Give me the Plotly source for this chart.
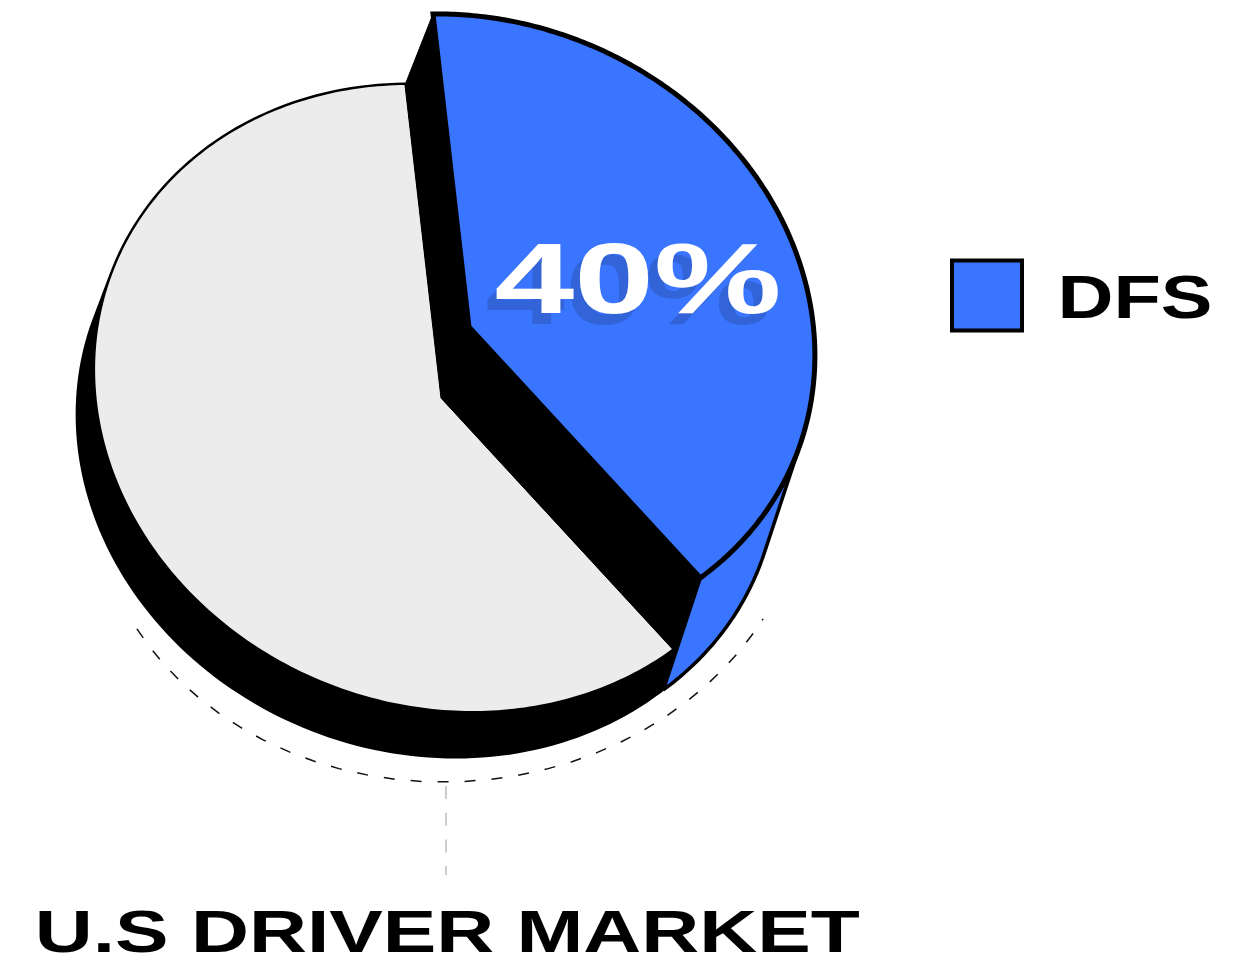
import numpy as np
import plotly.graph_objects as go

# Data
categories = ["DFS", "Other drivers"]
shares = [40, 60]
value_label = "40%"
legend_label = "DFS"
title_label = "U.S DRIVER MARKET"

BLUE = "#3a75ff"
GRAY = "#ececec"

# The pie is a circle seen through a linear map (page pixels, y down)
s_vec = np.array([-36.0, -313.0])
q_vec = np.array([344.0, -4.0])
blue_c = np.array([469.0, 327.0])
gray_c = np.array([441.0, 398.0])
gray_depth = np.array([-17.0, 45.0])
blue_depth = np.array([-37.0, 112.0])


def arc(center, t0, t1, n=240):
    t = np.linspace(t0, t1, n)
    return center + np.outer(np.cos(t), s_vec) + np.outer(np.sin(t), q_vec)


def hull(pts):
    pts = sorted(map(tuple, pts))
    def half(seq):
        out = []
        for p in seq:
            while len(out) > 1 and ((out[-1][0]-out[-2][0])*(p[1]-out[-2][1]) -
                                    (out[-1][1]-out[-2][1])*(p[0]-out[-2][0])) <= 0:
                out.pop()
            out.append(p)
        return out[:-1]
    h = half(pts) + half(pts[::-1])
    return np.array(h + [h[0]])


split = 2 * np.pi * shares[0] / sum(shares)
fig = go.Figure()


def poly(points, fill, line_color=None, width=0, name=""):
    fig.add_trace(go.Scatter(
        x=points[:, 0], y=points[:, 1], mode="lines", fill="toself", fillcolor=fill,
        line=dict(color=line_color or fill, width=width, simplify=False),
        name=name, hoverinfo="name", showlegend=False))


# dashed bracket and leader
t_d = np.linspace(np.radians(151), np.radians(29), 200)
dx = 358 * np.cos(t_d)
fig.add_trace(go.Scatter(x=450 + dx, y=475 + 307 * np.sin(t_d) - 0.016 * dx, mode="lines",
                         line=dict(color="#111111", width=1.5, dash="11px,16px"),
                         hoverinfo="skip", showlegend=False))
fig.add_trace(go.Scatter(x=[446, 446], y=[786, 875], mode="lines",
                         line=dict(color="#bdbdbd", width=1.5, dash="13px,13.7px"),
                         hoverinfo="skip", showlegend=False))

# extrusions
full = arc(gray_c, 0, 2 * np.pi)
poly(hull(np.vstack([full, full + gray_depth])), "#000000", "#000000", 5, categories[1] + " side")
blue_arc = arc(blue_c, 0, split)
blue_low = blue_arc[blue_arc[:, 1] > 300]
poly(hull(np.vstack([blue_low, blue_low + blue_depth])), BLUE, "#000000", 3.5, categories[0] + " side")

# grey top
g = arc(gray_c, split, 2 * np.pi)
poly(np.vstack([gray_c, g, gray_c]), GRAY, name=categories[1])

# wall between the two slices
g_s, g_e = gray_c + s_vec, arc(gray_c, split, split, 1)[0]
b_s, b_e = blue_c + s_vec, arc(blue_c, split, split, 1)[0]
poly(np.array([b_s, g_s, gray_c, g_e, b_e, blue_c, b_s]), "#000000", "#000000", 1, "wall")

# blue top
poly(np.vstack([blue_c, blue_arc, blue_c]), BLUE, "#000000", 5, categories[0])

# legend swatch
fig.add_trace(go.Scatter(x=[987], y=[295.5], mode="markers", name=categories[0],
                         marker=dict(symbol="square", size=70, color=BLUE,
                                     line=dict(color="#000000", width=4)),
                         showlegend=False))

ann_font = "Liberation Sans"
fig.add_annotation(x=638, y=278, text=value_label, showarrow=False,
                   font=dict(family=ann_font, size=100, color="#ffffff", weight="bold",
                             shadow="-8px 13px 0 #3264d8"))
fig.add_annotation(x=1135, y=297, text=legend_label, showarrow=False,
                   font=dict(family=ann_font, size=61, color="#000000", weight="bold"))
fig.add_annotation(x=447, y=931, text=title_label, showarrow=False,
                   font=dict(family=ann_font, size=60, color="#000000", weight="bold"))

axis = dict(visible=False, fixedrange=True)
fig.update_layout(
    width=1244, height=956, autosize=False,
    margin=dict(l=0, r=0, t=0, b=0),
    paper_bgcolor="#ffffff", plot_bgcolor="#ffffff",
    xaxis=dict(axis, range=[0, 1244]),
    yaxis=dict(axis, range=[956, 0]),
)

stretch = """
var wanted = {'40%': 287, 'DFS': 155, 'U.S DRIVER MARKET': 825};
document.querySelectorAll('.annotation-text').forEach(function (t) {
  var w = wanted[t.textContent];
  if (!w) return;
  var box = t.getBBox();
  var sx = w / box.width;
  var cx = box.x + box.width / 2;
  t.setAttribute('transform', 'translate(' + (cx * (1 - sx)) + ',0) scale(' + sx + ',1)');
});
document.body.style.margin = '0';
"""
fig.write_html("out.html", post_script=stretch, config=dict(displayModeBar=False))
